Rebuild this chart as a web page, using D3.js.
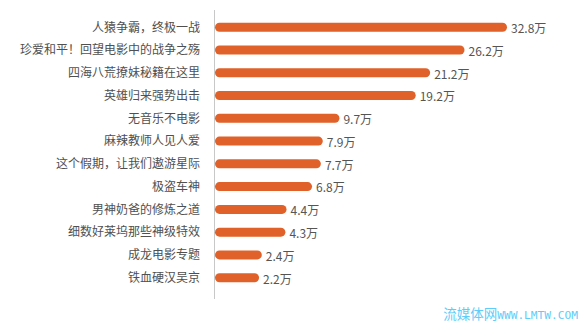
<!DOCTYPE html>
<html>
<head>
<meta charset="utf-8">
<script src="https://cdn.jsdelivr.net/npm/d3@7"></script>
<style>
  html, body { margin: 0; padding: 0; background: #fff; }
  svg { display: block; }
</style>
</head>
<body>
<svg id="chart" width="583" height="322"></svg>
<script>
// Topic titles, top to bottom
const categories = [
  "人猿争霸，终极一战",
  "珍爱和平！回望电影中的战争之殇",
  "四海八荒撩妹秘籍在这里",
  "英雄归来强势出击",
  "无音乐不电影",
  "麻辣教师人见人爱",
  "这个假期，让我们遨游星际",
  "极盗车神",
  "男神奶爸的修炼之道",
  "细数好莱坞那些神级特效",
  "成龙电影专题",
  "铁血硬汉吴京"
];
// Views, in units of 万
const values = [32.8, 26.2, 21.2, 19.2, 9.7, 7.9, 7.7, 6.8, 4.4, 4.3, 2.4, 2.2];
const unit = "万";
const watermarkName = "流媒体网";
const watermarkUrl = "WWW.LMTW.COM";

const svg = d3.select("#chart");
const fontCJK = "'Noto Sans CJK SC', 'Noto Sans', sans-serif";

const x0 = 215;
const barH = 9;

// Bar length grows a little slower than the value so the short bars stay readable
const x = d3.scalePow().exponent(0.7)
  .domain([0, d3.max(values)])
  .range([x0, x0 + 292]);

const y = d3.scalePoint()
  .domain(categories)
  .range([27.2, 277.7]);

// Category axis line
svg.append("line")
  .attr("x1", 214.5).attr("x2", 214.5)
  .attr("y1", 10).attr("y2", 299)
  .attr("stroke", "#c8c8c8")
  .attr("stroke-width", 1);

const rows = svg.append("g")
  .selectAll("g")
  .data(categories.map((c, i) => ({ c, v: values[i] })))
  .join("g");

rows.append("rect")
  .attr("x", x0)
  .attr("y", d => y(d.c) - barH / 2)
  .attr("width", d => x(d.v) - x0)
  .attr("height", barH)
  .attr("rx", barH / 2)
  .attr("ry", barH / 2)
  .attr("fill", "#e0622a");

rows.append("text")
  .attr("x", 200)
  .attr("y", d => y(d.c))
  .attr("dy", "0.36em")
  .attr("text-anchor", "end")
  .attr("font-family", fontCJK)
  .attr("font-size", 12)
  .attr("fill", "#505050")
  .text(d => d.c);

rows.append("text")
  .attr("x", d => x(d.v) + 4)
  .attr("y", d => y(d.c) + 1.5)
  .attr("dy", "0.36em")
  .attr("font-family", fontCJK)
  .attr("font-size", 12)
  .attr("fill", "#555")
  .text(d => d.v + unit);

// Site mark, bottom right
const mark = svg.append("text")
  .attr("x", 578)
  .attr("y", 319)
  .attr("text-anchor", "end")
  .attr("fill", "#5fcdfa");
mark.append("tspan")
  .attr("font-family", fontCJK)
  .attr("font-size", 13.5)
  .text(watermarkName);
mark.append("tspan")
  .attr("font-family", "'DejaVu Sans Mono', monospace")
  .attr("font-size", 11.2)
  .text(watermarkUrl);
</script>
</body>
</html>
